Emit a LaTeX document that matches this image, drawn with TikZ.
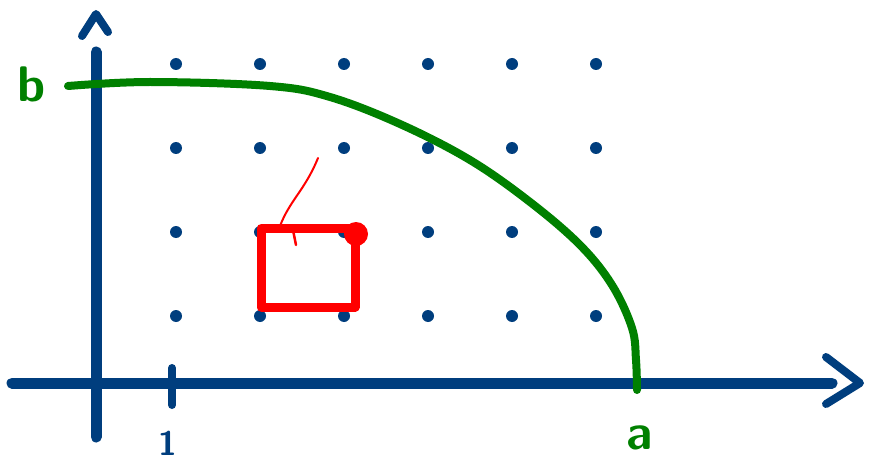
\documentclass[tikz,border=0pt]{standalone}
\usepackage{xcolor}
\definecolor{axisblue}{RGB}{0,62,126}
\definecolor{curvegreen}{RGB}{0,128,0}
\definecolor{boxred}{RGB}{255,0,0}
\tikzset{
	axis/.style={axisblue, line width=11pt, line cap=round, line join=round},
	gridpt/.style={circle, fill=axisblue, inner sep=0pt, minimum size=12pt},
	label/.style={font=\sffamily\bfseries\fontsize{50}{50}\selectfont, inner sep=0pt},
}
\begin{document}
\begin{tikzpicture}[x=1pt, y=-1pt]
	\useasboundingbox (0, 0) rectangle (870, 468);
	% Axes:
	\coordinate (xstart) at (12, 383);
	\coordinate (xend) at (832, 383);
	\coordinate (ystart) at (96, 437);
	\coordinate (yend) at (96, 52);
	\draw[axis] (xstart) -- (xend);
	\draw[axis] (ystart) -- (yend);
	\draw[axis, line width=8pt] (826, 357) -- (860, 383) -- (826, 404);
	\draw[axis, line width=8pt] (82, 36) -- (96, 14) -- (108, 32);
	\coordinate (tickup) at (172, 368);
	\coordinate (tickdown) at (172, 405);
	\draw[axis, line width=8pt] (tickup) -- (tickdown);
	\node[label, text=axisblue, font=\sffamily\bfseries\fontsize{34}{34}\selectfont] (one) at (168, 443) {1};
	% Grid points:
	\foreach \i in {0,...,5}
		\foreach \j in {0,...,3}
			\node[gridpt] (p\i\j) at (176 + 84*\i, 64 + 84*\j) {};
	% Ellipse:
	\node[label, text=curvegreen] (b) at (32, 84) {b};
	\node[label, text=curvegreen] (a) at (640, 438) {a};
	\draw[curvegreen, line width=8pt, line cap=round, line join=round] plot[smooth, tension=0.6] coordinates {
		(68, 86) (150, 82) (270, 86) (330, 97) (400, 124) (470, 160)
		(530, 202) (580, 245) (612, 285) (632, 328) (636, 360) (637, 390)};
	% Red square:
	\coordinate (sqa) at (261, 228);
	\coordinate (sqb) at (355, 228);
	\coordinate (sqc) at (355, 307);
	\coordinate (sqd) at (261, 307);
	\draw[boxred, line width=9pt, line cap=round, line join=round] (sqa) -- (sqb) -- (sqc) -- (sqd) -- cycle;
	\fill[boxred] (356, 234) circle (12pt);
	\draw[boxred, line width=2pt, line cap=round] (318, 158) .. controls (305, 190) and (290, 200) .. (280, 226);
	\draw[boxred, line width=2.5pt, line cap=round] (293, 230) -- (296, 245);
\end{tikzpicture}
\end{document}
